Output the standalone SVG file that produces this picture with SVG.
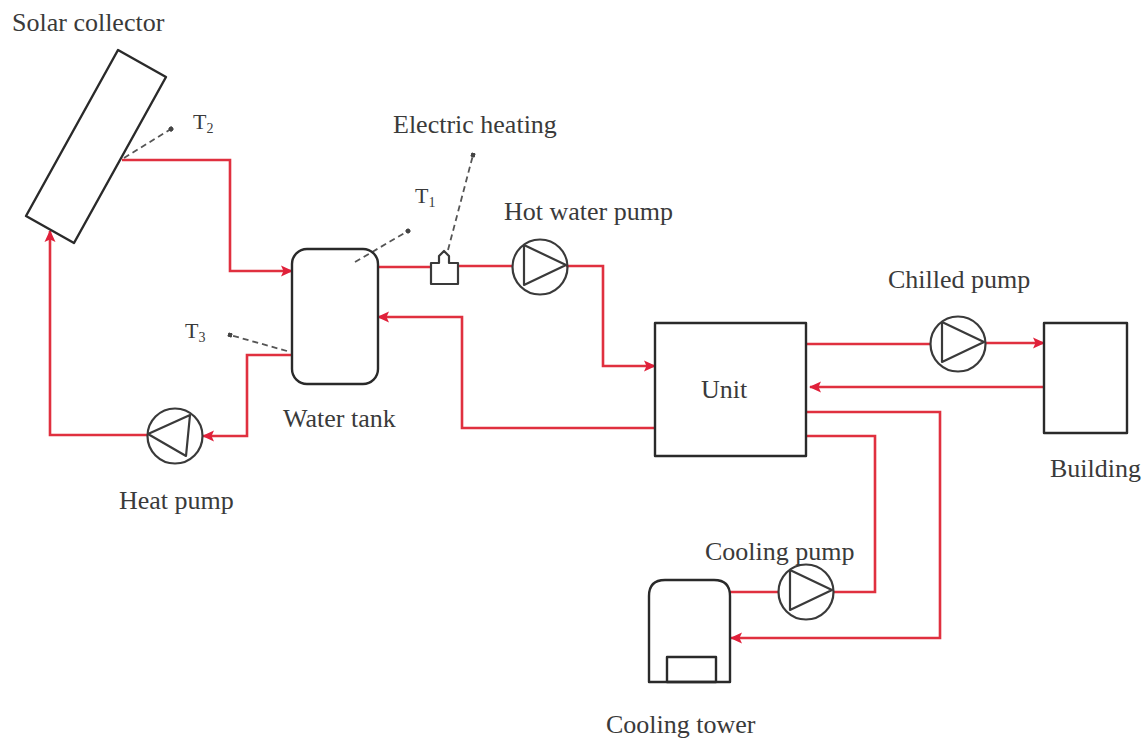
<svg xmlns="http://www.w3.org/2000/svg" width="1146" height="738" viewBox="0 0 1146 738">
<style>
.n{fill:none;stroke:#2a2a2a;stroke-width:2.4;stroke-linejoin:round}
.p{fill:none;stroke:#3a3a3a;stroke-width:2.2;stroke-linejoin:round}
.r{fill:none;stroke:#e0303f;stroke-width:2.6;stroke-linejoin:miter}
.a{marker-end:url(#arrow)}
.d{fill:none;stroke:#555;stroke-width:1.8;stroke-dasharray:6 4;marker-end:url(#dot)}
text{font-family:"Liberation Serif","Times New Roman",serif;font-size:26px;fill:#3a3a3a}
.s{font-size:22px}
.b{font-size:14px}
</style>
<defs>
<marker id="arrow" viewBox="0 0 12 12" refX="11" refY="6" markerWidth="12" markerHeight="12" markerUnits="userSpaceOnUse" orient="auto"><path d="M0 0.5L12 6L0 11.5L2.5 6Z" fill="#e0203a"/></marker>
<marker id="dot" viewBox="0 0 6 6" refX="3" refY="3" markerWidth="5" markerHeight="5" markerUnits="userSpaceOnUse" orient="auto"><circle cx="3" cy="3" r="3" fill="#444"/></marker>
<g id="pump"><circle cx="0" cy="0" r="27.5" class="p"/><path d="M-16-22V18L26-2Z" class="p"/></g>
</defs>
<g id="connectors">
<path class="r a" d="M122 160H230V271H292"/>
<path class="r a" d="M292 355H247V436H203"/>
<path class="r a" d="M148 435H50V231"/>
<path class="r" d="M378 267H431"/>
<path class="r" d="M457 266H512"/>
<path class="r a" d="M566 266H603V366H655"/>
<path class="r a" d="M655 428H462V317H378"/>
<path class="r" d="M806 344H931"/>
<path class="r a" d="M985 343H1044"/>
<path class="r a" d="M1044 387H810"/>
<path class="r a" d="M806 412H940V638H731"/>
<path class="r" d="M806 436H875V592H833"/>
<path class="r" d="M778 592H730"/>
<path class="d" d="M124 158L171 129"/>
<path class="d" d="M355 262L408 231"/>
<path class="d" d="M448 250L473 155"/>
<path class="d" d="M287 351L230 335"/>
</g>
<g id="solar-collector"><path class="n" d="M118 50L166 77L74 243L26 216Z"/><text x="12" y="31">Solar collector</text></g>
<g id="t2"><text class="s" x="193" y="129">T<tspan class="b" dy="4">2</tspan></text></g>
<g id="water-tank"><rect class="n" x="292" y="249" width="86" height="135" rx="15"/><text x="283" y="427">Water tank</text></g>
<g id="t1"><text class="s" x="415" y="203">T<tspan class="b" dy="4">1</tspan></text></g>
<g id="t3"><text class="s" x="185" y="338">T<tspan class="b" dy="4">3</tspan></text></g>
<g id="electric-heating"><path class="p" d="M431 263H439V256L444 251L449 256V263H458V284H431Z"/><text x="393" y="133">Electric heating</text></g>
<g id="hot-water-pump"><use href="#pump" x="540" y="267"/><text x="504" y="220">Hot water pump</text></g>
<g id="heat-pump"><circle class="p" cx="175" cy="436" r="27.5"/><path class="p" d="M148 434L190 415L186 456Z"/><text x="119" y="509">Heat pump</text></g>
<g id="unit"><rect class="n" x="655" y="323" width="151" height="133"/><text x="701" y="398">Unit</text></g>
<g id="chilled-pump"><use href="#pump" x="958" y="344"/><text x="888" y="288">Chilled pump</text></g>
<g id="building"><rect class="n" x="1044" y="323" width="83" height="110"/><text x="1050" y="477">Building</text></g>
<g id="cooling-pump"><use href="#pump" x="806" y="592"/><text x="705" y="560">Cooling pump</text></g>
<g id="cooling-tower"><path class="n" d="M649 682V596Q649 580 665 580H714Q730 580 730 596V682Z"/><rect class="n" x="667" y="657" width="49" height="25"/><text x="606" y="733">Cooling tower</text></g>
</svg>
